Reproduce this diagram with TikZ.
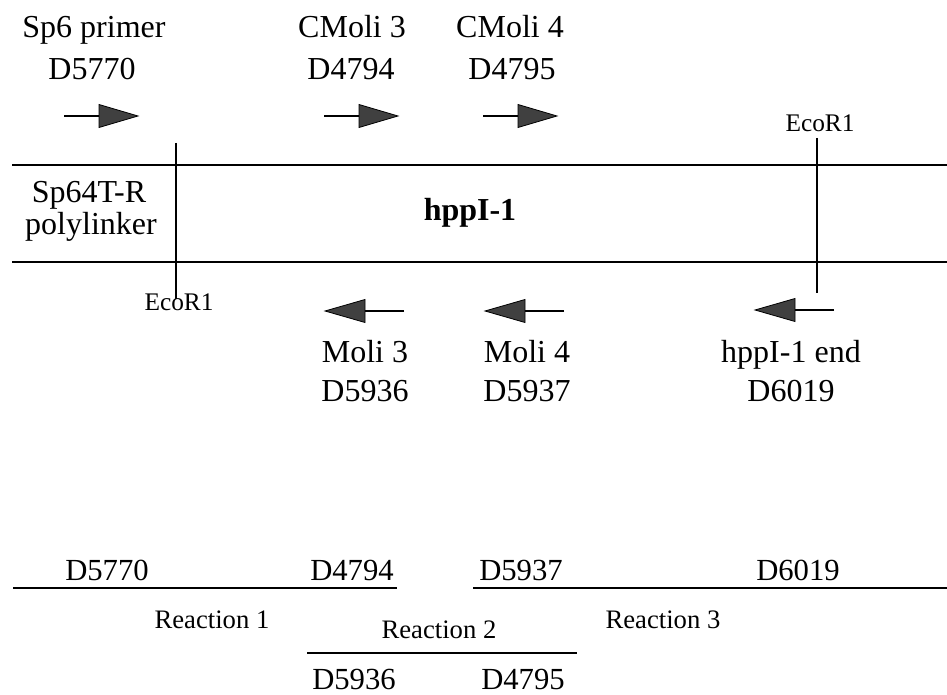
\documentclass[tikz,border=0pt]{standalone}
\usepackage{fontspec}
\setmainfont{Liberation Serif}
\begin{document}
\begin{tikzpicture}[x=0.75pt,y=-0.75pt,
  lbl/.style={inner sep=0pt,anchor=base,font=\fontsize{24}{28}\selectfont},
  lblb/.style={inner sep=0pt,anchor=base,font=\fontsize{23}{27}\selectfont},
  small/.style={inner sep=0pt,anchor=base,font=\fontsize{19}{22}\selectfont},
  rxn/.style={inner sep=0pt,anchor=base,font=\fontsize{20}{24}\selectfont},
  dna/.style={line width=2pt},
  site/.style={line width=1.8pt},
  shaft/.style={line width=1.6pt},
  head/.style={fill=black!75,draw=black,line width=0.6pt,line join=miter},
  fwdarrow/.pic={\draw[shaft] (-74,0) -- (-37,0);
                 \draw[head] (0,0) -- (-39,-11.5) -- (-39,11.5) -- cycle;},
  revarrow/.pic={\draw[shaft] (79,0) -- (37,0);
                 \draw[head] (0,0) -- (40,-11.5) -- (40,11.5) -- cycle;}]
\useasboundingbox (0,0) rectangle (947,695);

% top primer labels
\node[lbl] (sp6a) at (94,38) {Sp6 primer};
\node[lbl] (sp6b) at (92,80) {D5770};
\node[lbl] (cm3a) at (352,38) {CMoli 3};
\node[lbl] (cm3b) at (351,80) {D4794};
\node[lbl] (cm4a) at (510,38) {CMoli 4};
\node[lbl] (cm4b) at (512,80) {D4795};

% forward primer arrows
\pic at (138,116) {fwdarrow};
\pic at (398,116) {fwdarrow};
\pic at (557,116) {fwdarrow};

% DNA strand
\coordinate (tl) at (12,165);  \coordinate (tr) at (947,165);
\coordinate (bl) at (12,262);  \coordinate (br) at (947,262);
\draw[dna] (tl) -- (tr);
\draw[dna] (bl) -- (br);

% EcoR1 sites
\node[small] (ecoL) at (179,311) {EcoR1};
\node[small] (ecoR) at (820,132) {EcoR1};
\coordinate (sL1) at (176,143); \coordinate (sL2) at (176,299);
\coordinate (sR1) at (817,138); \coordinate (sR2) at (817,293);
\draw[site] (sL1) -- (sL2);
\draw[site] (sR1) -- (sR2);

% strand labels
\node[lbl] (sp64) at (89,203) {Sp64T-R};
\node[lbl] (poly) at (91,235) {polylinker};
\node[lbl,font=\fontsize{24}{28}\selectfont\bfseries] (hpp) at (470,221) {hppI-1};

% reverse primer arrows
\pic at (325,311) {revarrow};
\pic at (485,311) {revarrow};
\pic at (755,310) {revarrow};

% reverse primer labels
\node[lbl] (m3a) at (365,363) {Moli 3};
\node[lbl] (m3b) at (365,402) {D5936};
\node[lbl] (m4a) at (527,363) {Moli 4};
\node[lbl] (m4b) at (527,402) {D5937};
\node[lbl] (ea) at (791,363) {hppI-1 end};
\node[lbl] (eb) at (791,402) {D6019};

% reactions
\coordinate (r1a) at (13,588);  \coordinate (r1b) at (397,588);
\coordinate (r3a) at (473,588); \coordinate (r3b) at (947,588);
\coordinate (r2a) at (307,653); \coordinate (r2b) at (577,653);
\draw[dna] (r1a) -- (r1b);
\draw[dna] (r3a) -- (r3b);
\draw[dna] (r2a) -- (r2b);

\node[lblb] (b1) at (107,580) {D5770};
\node[lblb] (b2) at (352,580) {D4794};
\node[lblb] (b3) at (521,580) {D5937};
\node[lblb] (b4) at (798,580) {D6019};
\node[lblb] (b5) at (354,689) {D5936};
\node[lblb] (b6) at (523,689) {D4795};

\node[rxn] (rx1) at (212,628) {Reaction 1};
\node[rxn] (rx2) at (439,638) {Reaction 2};
\node[rxn] (rx3) at (663,628) {Reaction 3};
\end{tikzpicture}
\end{document}
